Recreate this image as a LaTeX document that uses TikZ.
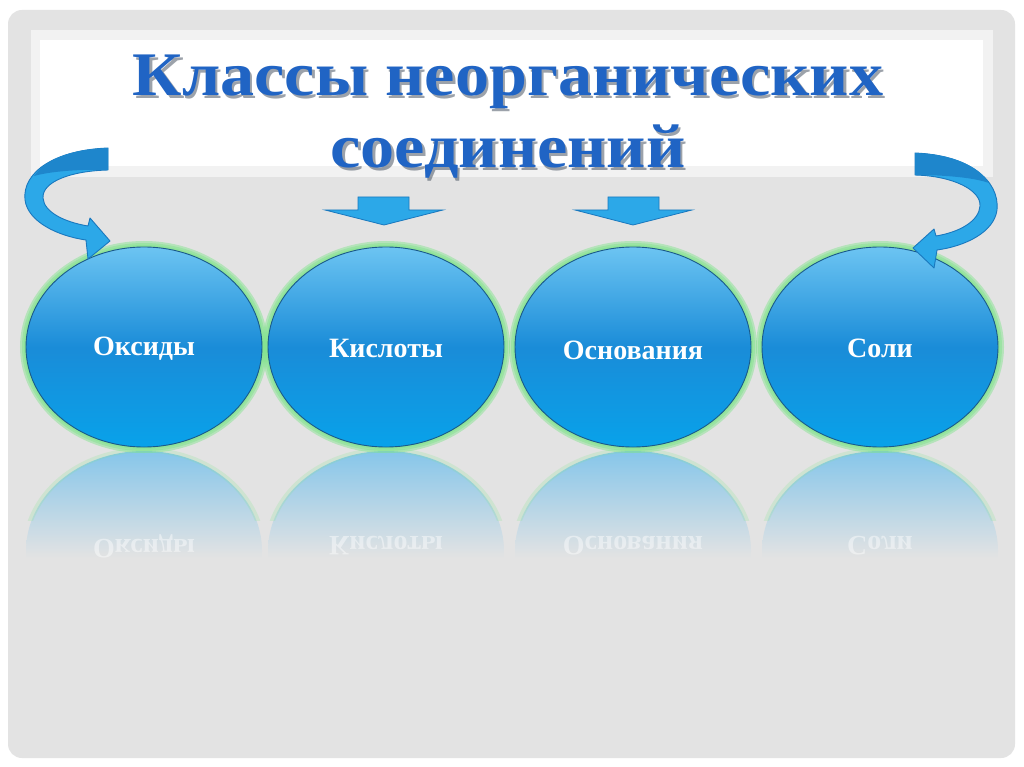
\documentclass[tikz,border=0pt]{standalone}
\usepackage{fontspec}
\setmainfont{Liberation Serif}
\usetikzlibrary{shapes.geometric}
\definecolor{bg}{HTML}{E3E3E3}
\definecolor{band}{HTML}{F2F2F2}
\definecolor{ttl}{HTML}{2064C4}
\definecolor{ttlsh}{HTML}{3A4656}
\definecolor{etop}{HTML}{6CC4F2}
\definecolor{emid}{HTML}{1A8CD8}
\definecolor{ebot}{HTML}{08A2EA}
\definecolor{eline}{HTML}{1B5A8A}
\definecolor{glow}{HTML}{7EE38A}
\definecolor{refl}{HTML}{86C6EA}
\definecolor{afill}{HTML}{2CA8E8}
\definecolor{aline}{HTML}{1A78BE}
\definecolor{adark}{HTML}{1E86CC}
\tikzset{
  titletext/.style={font=\bfseries\fontsize{62}{62}\selectfont, text=ttl, inner sep=0pt, anchor=base, xscale=1.1},
  titleshadow/.style={font=\bfseries\fontsize{62}{62}\selectfont, text=ttlsh, opacity=0.5, inner sep=0pt, anchor=base, xscale=1.1},
  classbox/.style={ellipse, minimum width=236pt, minimum height=200pt, inner sep=0pt,
    top color=etop, bottom color=ebot, middle color=emid, draw=eline, line width=0.9pt},
  classlabel/.style={text=white, font=\bfseries\fontsize{28}{28}\selectfont, inner sep=0pt},
  glowline/.style={draw=glow, line width=#1, opacity=0.45},
  refltext/.style={text=white, opacity=0.45, font=\bfseries\fontsize{28}{28}\selectfont, yscale=-1, inner sep=0pt},
  downarrow/.style={fill=afill, draw=aline, line width=0.8pt, line join=miter},
  curvedarrow/.style={fill=afill, draw=aline, line width=0.9pt, line join=round}
}
\begin{document}
\begin{tikzpicture}[x=1pt,y=-1pt]
\useasboundingbox (0,0) rectangle (1024,767);
\fill[white] (0,0) rectangle (1024,767);
\fill[bg, rounded corners=14pt] (8,10) rectangle (1015,758);
% title band
\fill[band] (31,30) rectangle (993,177);
\fill[white] (40,40) rectangle (983,166);
\node[titleshadow] (t1s) at (510.5,98.5) {Классы неорганических};
\node[titleshadow] (t2s) at (510.5,170.5) {соединений};
\node[titletext] (t1) at (508,96) {Классы неорганических};
\node[titletext] (t2) at (508,168) {соединений};

% reflections
\foreach \cx/\lbl in {144/Оксиды, 386/Кислоты, 633/Основания, 880/Соли}{
  \begin{scope}
    \clip (\cx,551) ellipse [x radius=118pt, y radius=100pt];
    \shade[top color=refl, bottom color=bg] (\cx-125,451) rectangle (\cx+125,558);
    \node[refltext] at (\cx,546) {\lbl};
  \end{scope}
  \begin{scope}
    \clip (\cx-130,449) rectangle (\cx+130,520);
    \draw[glowline=5pt, opacity=0.2] (\cx,551) ellipse [x radius=119pt, y radius=101pt];
  \end{scope}
  \foreach \w in {12pt,8pt,4pt}{
    \draw[glowline=\w] (\cx,347) ellipse [x radius=118pt, y radius=100pt];
  }
}

% main ellipses
\node[classbox] (oks) at (144,347) {};
\node[classbox] (kis) at (386,347) {};
\node[classbox] (osn) at (633,347) {};
\node[classbox] (sol) at (880,347) {};
\node[classlabel] (loks) at (144,349) {Оксиды};
\node[classlabel] (lkis) at (386,348) {Кислоты};
\node[classlabel] (losn) at (633,350) {Основания};
\node[classlabel] (lsol) at (880,348) {Соли};

% down arrows
\draw[downarrow] (358,197) -- (409,197) -- (409,210) -- (443,210) -- (384,225) -- (325,210) -- (358,210) -- cycle;
\draw[downarrow] (608,197) -- (659,197) -- (659,210) -- (692,210) -- (633,225) -- (575,210) -- (608,210) -- cycle;

% left curved arrow
\draw[curvedarrow] (108,148) .. controls (55,150) and (22,172) .. (25,200)
  .. controls (28,222) and (58,236) .. (86,240)
  -- (88,259) -- (110,241) -- (90,218) -- (88,226)
  .. controls (64,222) and (44,212) .. (43,198)
  .. controls (42,182) and (70,171) .. (108,170) -- cycle;
\fill[adark] (108,148) .. controls (70,149) and (45,160) .. (34,176)
  .. controls (48,172) and (75,169) .. (108,170) -- cycle;
% right curved arrow
\draw[curvedarrow] (915,153) .. controls (968,155) and (1000,180) .. (997,210)
  .. controls (994,232) and (966,246) .. (937,250)
  -- (934,268) -- (913,248) -- (934,229) -- (936,236)
  .. controls (960,232) and (979,221) .. (980,206)
  .. controls (981,190) and (953,176) .. (915,175) -- cycle;
\fill[adark] (915,153) .. controls (953,154) and (978,166) .. (989,183)
  .. controls (975,178) and (948,175) .. (915,175) -- cycle;
\end{tikzpicture}
\end{document}
